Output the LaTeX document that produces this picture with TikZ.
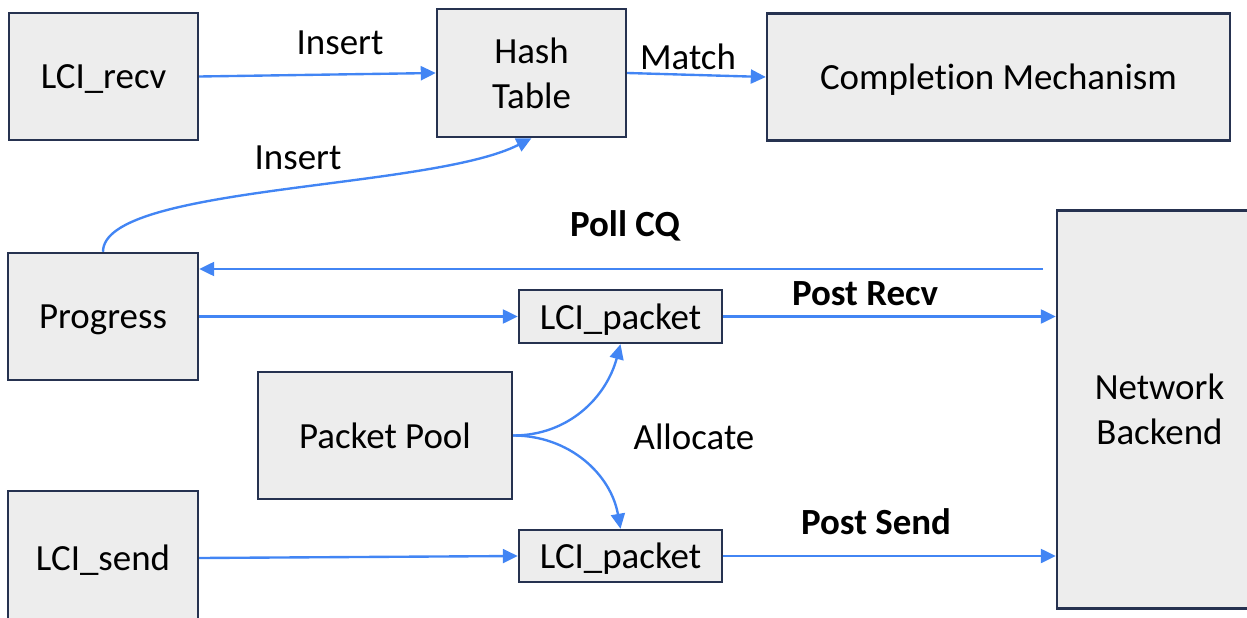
\documentclass[tikz,border=0pt]{standalone}
\usepackage{fontspec}
\setmainfont{Carlito}[Ligatures={NoCommon}]
\usetikzlibrary{arrows.meta}
\definecolor{linkblue}{RGB}{66,133,244}
\definecolor{boxfill}{RGB}{237,237,237}
\definecolor{boxline}{RGB}{38,50,80}
\tikzset{
	box/.style={draw=boxline, fill=boxfill, line width=1.4pt, align=center, inner sep=0pt, text depth=0pt},
	link/.style={draw=linkblue, line width=1.35pt, -{Triangle[length=0.3cm,width=0.28cm]}},
	lbl/.style={inner sep=1pt},
	boldlbl/.style={inner sep=1pt, font=\fontsize{21}{25.5}\selectfont\bfseries}
}

\begin{document}
\begin{tikzpicture}[x=0.02cm, y=0.02cm, font=\fontsize{21}{25.5}\selectfont]
			%%%%% START %%%%%
			\useasboundingbox (0,0) rectangle (1247,-618);
			\clip (0,0) rectangle (1247,-618);
			
			\node[box, minimum width=3.78cm, minimum height=2.54cm] (recv) at (103.5,-76.5) {LCI\_recv};
			\node[box, minimum width=3.78cm, minimum height=2.56cm] (hash) at (531.5,-73) {Hash\\Table};
			\node[box, minimum width=9.26cm, minimum height=2.54cm] (compl) at (998.5,-77) {Completion Mechanism};
			
			\node[box, minimum width=3.8cm, minimum height=2.54cm] (prog) at (103,-316.5) {Progress};
			\node[box, minimum width=4.1cm, minimum height=7.96cm] (net) at (1159.5,-409.5) {Network\\Backend};
			
			\node[box, minimum width=4.06cm, minimum height=1.06cm] (pkta) at (620.5,-316.5) {LCI\_packet};
			\node[box, minimum width=5.08cm, minimum height=2.54cm] (pool) at (385,-435.5) {Packet Pool};
			
			\node[box, minimum width=3.8cm, minimum height=2.68cm] (send) at (103,-558) {LCI\_send};
			\node[box, minimum width=4.06cm, minimum height=1.04cm] (pktb) at (620.5,-556) {LCI\_packet};
			
			\coordinate (pollstart) at (1043,-269);
			
			\draw[link] (recv.east) -- (hash.west);
			\draw[link] (hash.east) -- (compl.west);
			\draw[link] (prog.north) .. controls (103,-185) and (430,-190) .. (hash.south);
			\draw[link] (pollstart) -- (pollstart -| prog.east);
			\draw[link] (prog.east) -- (pkta.west);
			\draw[link] (pkta.east) -- (pkta.east -| net.west);
			\draw[link] (pool.east) to[out=0, in=-105] (pkta.south);
			\draw[link] (pool.east) to[out=0, in=100] (pktb.north);
			\draw[link] (send.east) -- (pktb.west);
			\draw[link] (pktb.east) -- (pktb.east -| net.west);
			
			\node[lbl] (insa) at (340,-43) {Insert};
			\node[lbl] (match) at (688,-57) {Match};
			\node[lbl] (insb) at (298,-158) {Insert};
			\node[boldlbl] (poll) at (625,-226) {Poll CQ};
			\node[boldlbl] (postrecv) at (865,-294) {Post Recv};
			\node[lbl] (alloc) at (694,-437) {Allocate};
			\node[boldlbl] (postsend) at (876,-522) {Post Send};
			
			%%%%% END %%%%%
		\end{tikzpicture}
\end{document}
